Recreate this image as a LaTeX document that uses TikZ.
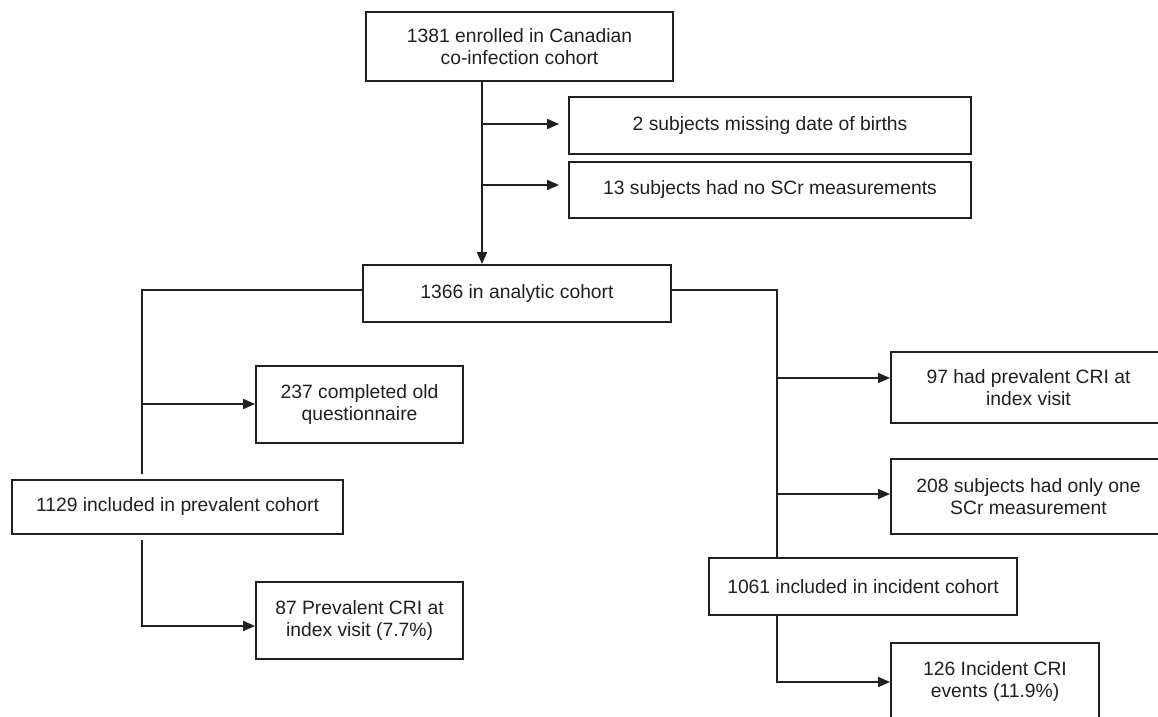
\documentclass[tikz,border=0pt]{standalone}
\usepackage{fontspec}
\setmainfont{Liberation Sans}
\usetikzlibrary{arrows.meta,calc}
\definecolor{ink}{HTML}{231F20}
\newcommand\boxfont{\fontsize{19.3bp}{22.3bp}\selectfont}
\begin{document}
\begin{tikzpicture}[x=1bp,y=-1bp,
  box/.style={draw=ink, line width=1.9bp, inner sep=0pt, align=center, font=\boxfont, text=ink},
  conn/.style={draw=ink, line width=1.9bp},
  arr/.style={conn, -{Triangle[length=12bp,width=10bp]}}]
\useasboundingbox (0,0) rectangle (1158,717);
\clip (0,0) rectangle (1158,717);
\fill[white] (0,0) rectangle (1158,717);

\node[box, minimum width=307bp, minimum height=69bp] (b1) at (519.5,46.5) {1381 enrolled in Canadian\\co-infection cohort};
\node[box, minimum width=402bp, minimum height=57bp] (b2) at (770,125.5) {2 subjects missing date of births};
\node[box, minimum width=402bp, minimum height=56bp] (b3) at (770,190) {13 subjects had no SCr measurements};
\node[box, minimum width=308bp, minimum height=57bp] (b4) at (517,293.5) {1366 in analytic cohort};
\node[box, minimum width=207bp, minimum height=77bp] (b5) at (359.5,404.5) {237 completed old\\questionnaire};
\node[box, minimum width=331bp, minimum height=54bp] (b6) at (177.5,507) {1129 included in prevalent cohort};
\node[box, minimum width=207bp, minimum height=77bp] (b7) at (359.5,620.5) {87 Prevalent CRI at\\index visit (7.7\%)};
\node[box, minimum width=275bp, minimum height=71bp] (b8) at (1028.5,387.5) {97 had prevalent CRI at\\index visit};
\node[box, minimum width=275bp, minimum height=75bp] (b9) at (1028.5,496.5) {208 subjects had only one\\SCr measurement};
\node[box, minimum width=308bp, minimum height=57bp] (b10) at (863,586.5) {1061 included in incident cohort};
\node[box, minimum width=208bp, minimum height=77bp] (b11) at (995,681.5) {126 Incident CRI\\events (11.9\%)};

\coordinate (tx) at (482,0);
\coordinate (lx) at (142,0);
\coordinate (rx) at (777,0);
\coordinate (a2) at ([yshift=1.5bp]b2.west);
\coordinate (a3) at ([yshift=5bp]b3.west);
\coordinate (c4l) at ([yshift=3.5bp]b4.west);
\coordinate (c4r) at ([yshift=3.5bp]b4.east);
\coordinate (a5) at ([yshift=0.5bp]b5.west);
\coordinate (a7) at ([yshift=-5.5bp]b7.west);
\coordinate (a8) at ([yshift=9.5bp]b8.west);
\coordinate (a9) at ([yshift=2.5bp]b9.west);
\coordinate (a11) at ([yshift=-0.5bp]b11.west);

\draw[arr] (b1.south -| tx) -- (b4.north -| tx);
\draw[arr, shorten >=9bp] (a2 -| tx) -- (a2);
\draw[arr, shorten >=9bp] (a3 -| tx) -- (a3);

\draw[conn, shorten >=5bp] (c4l) -| (b6.north -| lx);
\draw[arr] (a5 -| lx) -- (a5);
\draw[arr, shorten <=5bp] (b6.south -| lx) |- (a7);

\draw[conn] (c4r) -| (b10.north -| rx);
\draw[arr] (a8 -| rx) -- (a8);
\draw[arr] (a9 -| rx) -- (a9);
\draw[arr] (b10.south -| rx) |- (a11);
\end{tikzpicture}
\end{document}
